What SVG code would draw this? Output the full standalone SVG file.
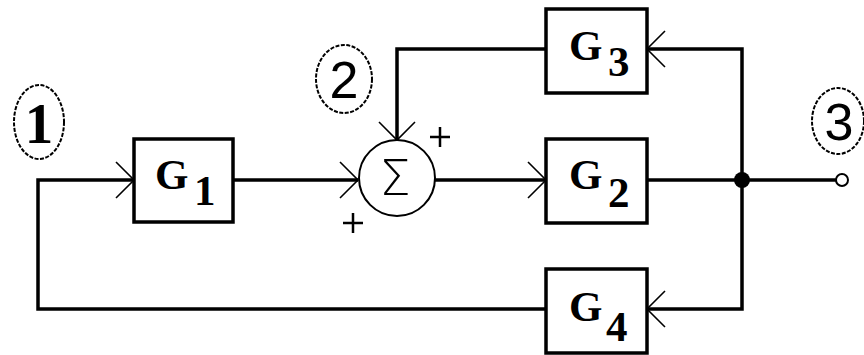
<svg xmlns="http://www.w3.org/2000/svg" width="864" height="355" viewBox="0 0 864 355">
<style>
.box{fill:#fff;stroke:#000;stroke-width:3.5}
.wire{fill:none;stroke:#000;stroke-width:3.5}
.g{font-family:"Liberation Serif",serif;font-weight:bold;font-size:43px;fill:#000}
.num{font-family:"Liberation Sans",sans-serif;font-size:52px;fill:#000;text-anchor:middle}
.lab{fill:none;stroke:#000;stroke-width:2;stroke-dasharray:4 1.5}
.plus{stroke:#000;stroke-width:2.5}
</style>
<defs>
<marker id="arr" markerUnits="userSpaceOnUse" markerWidth="44" markerHeight="44" refX="22" refY="22" viewBox="0 0 44 44" orient="auto" overflow="visible">
<path d="M4,4 L22,22 L4,40" fill="none" stroke="#000" stroke-width="1.6"/>
</marker>
</defs>
<g id="connectors">
<polyline class="wire" points="546,309 38,309 38,180 134,180" marker-end="url(#arr)"/>
<line class="wire" x1="233" y1="180" x2="358" y2="180" marker-end="url(#arr)"/>
<line class="wire" x1="435" y1="180" x2="546" y2="180" marker-end="url(#arr)"/>
<line class="wire" x1="647" y1="180" x2="836" y2="180"/>
<polyline class="wire" points="742,180 742,49 647,49" marker-end="url(#arr)"/>
<polyline class="wire" points="742,180 742,309 647,309" marker-end="url(#arr)"/>
<polyline class="wire" points="546,49 397,49 397,140" marker-end="url(#arr)"/>
<circle cx="742" cy="180" r="8" fill="#000"/>
<circle cx="842" cy="180" r="6" fill="#fff" stroke="#000" stroke-width="2"/>
</g>
<g id="G1">
<rect class="box" x="134" y="139" width="99" height="83"/>
<text class="g" x="155" y="189">G</text><text class="g" x="194" y="205">1</text>
</g>
<g id="G2">
<rect class="box" x="546" y="139" width="101" height="84"/>
<text class="g" x="569" y="189">G</text><text class="g" x="608" y="207">2</text>
</g>
<g id="G3">
<rect class="box" x="546" y="9" width="101" height="84"/>
<text class="g" x="569" y="60">G</text><text class="g" x="608" y="76">3</text>
</g>
<g id="G4">
<rect class="box" x="546" y="269" width="101" height="84"/>
<text class="g" x="569" y="321">G</text><text class="g" x="606" y="341">4</text>
</g>
<g id="sum">
<circle cx="397" cy="178" r="38" fill="#fff" stroke="#000" stroke-width="2"/>
<text x="395" y="195" font-family="DejaVu Sans,sans-serif" font-weight="200" font-size="50" text-anchor="middle">Σ</text>
<path class="plus" d="M430,137 h20 M440,127 v20 M343,223 h20 M353,213 v20"/>
</g>
<g id="label1">
<ellipse class="lab" cx="39" cy="122" rx="25" ry="37"/>
<text x="39" y="143" font-family="Liberation Serif,serif" font-weight="bold" font-size="57" text-anchor="middle">1</text>
</g>
<g id="label2">
<ellipse class="lab" cx="344" cy="79" rx="28" ry="34"/>
<text class="num" x="344" y="98">2</text>
</g>
<g id="label3">
<ellipse class="lab" cx="838" cy="121" rx="26" ry="33"/>
<text class="num" x="839" y="140">3</text>
</g>
</svg>
